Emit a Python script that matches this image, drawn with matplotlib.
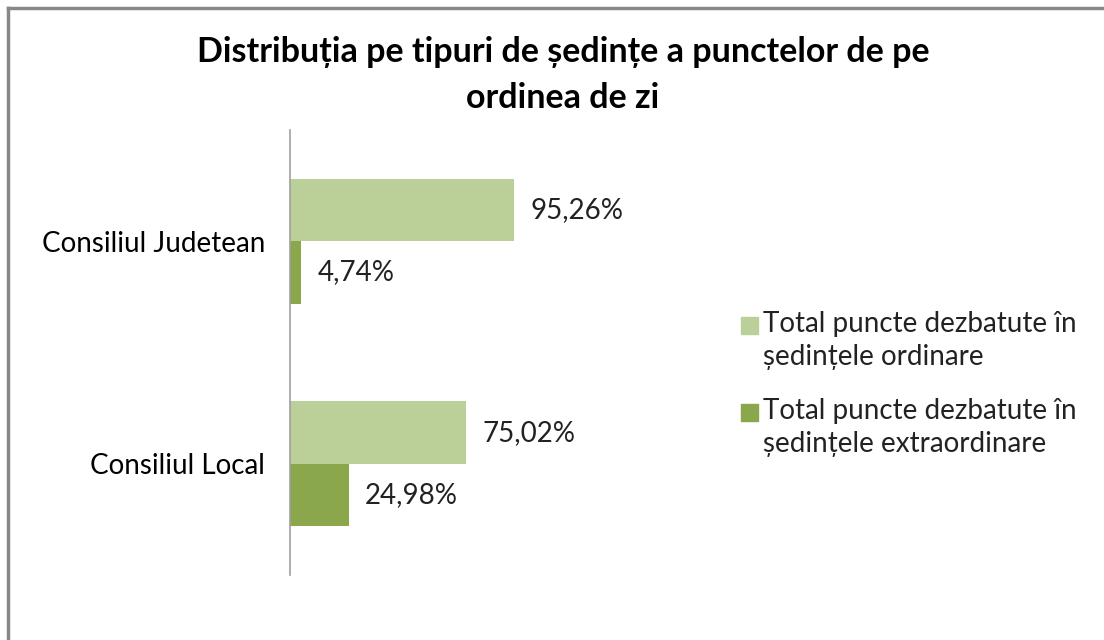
import matplotlib.pyplot as plt
import numpy as np
from matplotlib.lines import Line2D
from matplotlib.patches import Rectangle

plt.rcParams['font.family'] = ['Lato', 'DejaVu Sans']

categories = ['Consiliul Judetean', 'Consiliul Local']
ordinare = [95.26, 75.02]
extraordinare = [4.74, 24.98]
series_names = ['Total puncte dezbatute în\nședințele ordinare',
                'Total puncte dezbatute în\nședințele extraordinare']
colors = ['#bbcf98', '#8aa74c']

W, H = 1104, 640
fig = plt.figure(figsize=(W / 100, H / 100), dpi=100)
ax = fig.add_axes([290 / W, 1 - 575 / H, 300 / W, 445 / H])

y = np.arange(len(categories))
h = 0.28
b1 = ax.barh(y - h / 2, ordinare, height=h, color=colors[0])
b2 = ax.barh(y + h / 2, extraordinare, height=h, color=colors[1])

for bars, vals in [(b1, ordinare), (b2, extraordinare)]:
    for bar, v in zip(bars, vals):
        ax.text(bar.get_width() + 7, bar.get_y() + bar.get_height() / 2,
                f'{v:.2f}%'.replace('.', ','), va='center', ha='left',
                fontsize=20, color='#222222')

ax.set_xlim(0, 300 / 235 * 100)
ax.set_ylim(1.5, -0.5)
ax.set_yticks(y)
ax.set_yticklabels(categories, fontsize=20)
ax.tick_params(axis='y', length=0, pad=18)
ax.set_xticks([])
for s in ['top', 'right', 'bottom']:
    ax.spines[s].set_visible(False)
ax.spines['left'].set_color('#a0a0a0')
ax.spines['left'].set_linewidth(1.2)

fig.text(0.51, 1 - 52 / H, 'Distribuția pe tipuri de ședințe a punctelor de pe',
         ha='center', va='center', fontsize=24.5, fontweight='bold')
fig.text(0.51, 1 - 98 / H, 'ordinea de zi',
         ha='center', va='center', fontsize=24.5, fontweight='bold')

# legend: square next to the first line of each two-line label
for i, (name, c) in enumerate(zip(series_names, colors)):
    yc = 325 + i * 87
    fig.add_artist(Rectangle((741 / W, 1 - (yc + 9) / H), 17 / W, 17 / H,
                             color=c, transform=fig.transFigure))
    fig.text(763 / W, 1 - (yc - 14) / H, name, ha='left', va='top',
             fontsize=20, linespacing=1.35, color='#222222')

# outer frame (top and left visible)
fig.add_artist(Line2D([8 / W, 8 / W], [0, 1 - 8 / H], color='#888888', lw=2.5))
fig.add_artist(Line2D([8 / W, 1], [1 - 8 / H, 1 - 8 / H], color='#888888', lw=2.5))

fig.savefig('out.png', dpi=100)
